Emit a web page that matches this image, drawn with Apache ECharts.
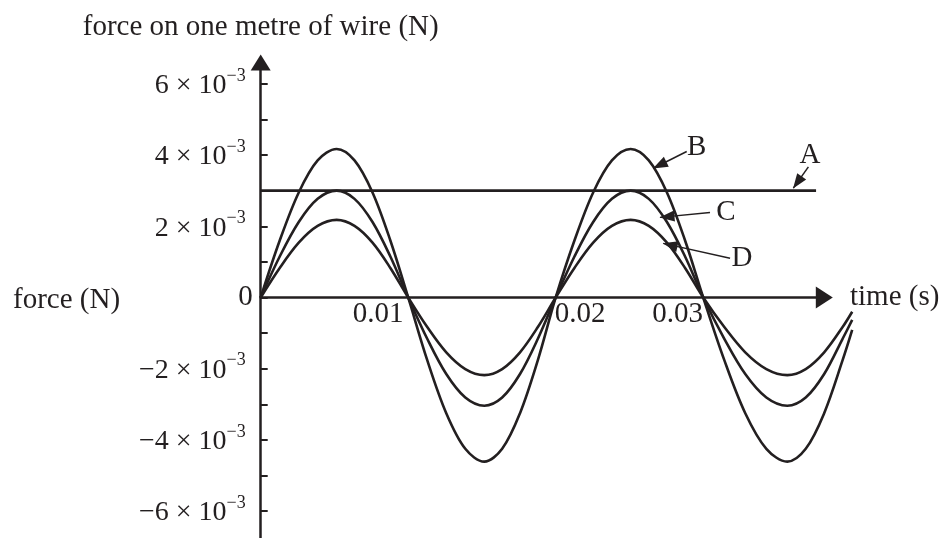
<!DOCTYPE html>
<html>
<head>
<meta charset="utf-8">
<script src="https://cdn.jsdelivr.net/npm/echarts@6/dist/echarts.min.js"></script>
<style>
  html, body { margin: 0; padding: 0; background: #ffffff; }
  #chart { width: 941px; height: 538px; }
</style>
</head>
<body>
<div id="chart"></div>
<script>
// Force on one metre of wire against time; forces are in units of 10^-3 N.
const timeS = [
  0, 0.00129, 0.00258, 0.00386, 0.00515, 0.00636, 0.00758, 0.00879, 0.01,
  0.01129, 0.01258, 0.01387, 0.01516, 0.01637, 0.01758, 0.01879, 0.02,
  0.02127, 0.02254, 0.02381, 0.02508, 0.02631, 0.02754, 0.02877, 0.03,
  0.03143, 0.03285, 0.03428, 0.0357, 0.03695, 0.0382, 0.03945, 0.0401
];
const forceB = [
  0, 1.60, 2.95, 3.85, 4.17, 3.85, 2.95, 1.60, 0,
  -1.76, -3.25, -4.25, -4.61, -4.25, -3.25, -1.76, 0,
  1.60, 2.95, 3.85, 4.17, 3.85, 2.95, 1.60, 0,
  -1.76, -3.25, -4.25, -4.61, -4.25, -3.25, -1.76, -0.91
];
const forceC = [
  0, 1.15, 2.12, 2.77, 3.0, 2.77, 2.12, 1.15, 0,
  -1.16, -2.15, -2.81, -3.04, -2.81, -2.15, -1.16, 0,
  1.15, 2.12, 2.77, 3.0, 2.77, 2.12, 1.15, 0,
  -1.16, -2.15, -2.81, -3.04, -2.81, -2.15, -1.16, -0.63
];
const forceD = [
  0, 0.83, 1.54, 2.01, 2.18, 2.01, 1.54, 0.83, 0,
  -0.83, -1.54, -2.01, -2.18, -2.01, -1.54, -0.83, 0,
  0.83, 1.54, 2.01, 2.18, 2.01, 1.54, 0.83, 0,
  -0.83, -1.54, -2.01, -2.18, -2.01, -1.54, -0.83, -0.40
];
// steady force A
const timeA = [0, 0.03765];
const forceA = [3.0, 3.0];

// axis ticks and labels
const yTickValues = [-7, -6, -5, -4, -3, -2, -1, 0, 1, 2, 3, 4, 5, 6];
const yLabelValues = [-6, -4, -2, 0, 2, 4, 6];
const xLabelValues = [0.01, 0.02, 0.03];
const xLabelTexts = ['0.01', '0.02', '0.03'];

// curve names and their pointer annotations (data coordinates)
const curveNames = ['A', 'B', 'C', 'D'];
const namePoints = [[0.03724, 4.00], [0.02955, 4.21], [0.03154, 2.39], [0.03263, 1.11]];
const pointerFrom = [[0.03713, 3.67], [0.02888, 4.10], [0.03046, 2.39], [0.03182, 1.10]];
const pointerTo = [[0.03611, 3.07], [0.02662, 3.63], [0.02707, 2.25], [0.02729, 1.52]];

const INK = '#231f20';
const SERIF = "'Liberation Serif', 'Times New Roman', serif";
const FS = 29;

const pairs = (xs, ys) => xs.map((x, i) => [x, ys[i]]);

const chart = echarts.init(document.getElementById('chart'), null, { renderer: 'canvas' });

// grid 0 carries the curves (its axes are hidden and run a little further right),
// grid 1 carries the visible axes with the arrow heads; both share the same scale.
const Y_MIN = -7, Y_MAX = 6.6;

const curveSeries = (name, ys) => ({
  name: name,
  type: 'line',
  xAxisIndex: 0,
  yAxisIndex: 0,
  data: pairs(timeS, ys),
  smooth: 0.34,
  showSymbol: false,
  clip: false,
  lineStyle: { color: INK, width: 2.6 },
  silent: true
});

const option = {
  backgroundColor: '#ffffff',
  animation: false,
  textStyle: { fontFamily: SERIF, color: INK },
  title: {
    text: 'force (N)',
    left: 8,
    top: 281,
    textStyle: { fontFamily: SERIF, fontSize: FS, fontWeight: 'normal', color: INK }
  },
  grid: [
    { left: 260.7, top: 62.5, width: 626.9, height: 484.2, containLabel: false, outerBoundsMode: 'none' },
    { left: 260.7, top: 62.5, width: 563.6, height: 484.2, containLabel: false, outerBoundsMode: 'none' }
  ],
  xAxis: [
    {
      gridIndex: 0, type: 'value', min: 0, max: 0.0425, show: false,
      splitLine: { show: false }
    },
    {
      gridIndex: 1,
      type: 'value',
      min: 0,
      max: 0.03821,
      interval: 0.01,
      position: 'bottom',
      offset: -249.2,
      name: 'time (s)',
      nameLocation: 'end',
      nameGap: 25.7,
      nameTextStyle: { fontFamily: SERIF, fontSize: FS, color: INK, align: 'left', verticalAlign: 'middle', padding: [10, 0, 0, 0] },
      axisLine: {
        onZero: false,
        symbol: ['none', 'triangle'],
        symbolSize: [22, 17],
        lineStyle: { color: INK, width: 2.5 }
      },
      axisTick: { show: false },
      splitLine: { show: false },
      axisLabel: {
        customValues: xLabelValues,
        margin: 2,
        fontFamily: SERIF,
        fontSize: FS,
        color: INK,
        formatter: function (v) {
          const i = xLabelValues.findIndex(x => Math.abs(x - v) < 1e-9);
          if (i < 0) return '';
          const style = ['l', 'r', 'm'][i];
          return '{' + style + '|' + xLabelTexts[i] + '}';
        },
        rich: {
          l: { fontFamily: SERIF, fontSize: FS, color: INK, padding: [0, 60, 0, 0] },
          r: { fontFamily: SERIF, fontSize: FS, color: INK, padding: [0, 0, 0, 49] },
          m: { fontFamily: SERIF, fontSize: FS, color: INK, padding: [0, 51, 0, 0] }
        }
      }
    }
  ],
  yAxis: [
    {
      gridIndex: 0, type: 'value', min: Y_MIN, max: Y_MAX, show: false,
      splitLine: { show: false }
    },
    {
      gridIndex: 1,
      type: 'value',
      min: Y_MIN,
      max: Y_MAX,
      interval: 1,
      position: 'left',
      name: 'force on one metre of wire (N)',
      nameLocation: 'end',
      nameGap: 35.5,
      nameTextStyle: { fontFamily: SERIF, fontSize: FS, color: INK, align: 'center', verticalAlign: 'middle' },
      axisLine: {
        onZero: false,
        symbol: ['none', 'triangle'],
        symbolSize: [20, 16],
        lineStyle: { color: INK, width: 2.5 }
      },
      axisTick: {
        customValues: yTickValues,
        inside: true,
        length: 7,
        lineStyle: { color: INK, width: 2 }
      },
      splitLine: { show: false },
      axisLabel: {
        customValues: yLabelValues,
        margin: 8,
        formatter: function (v) {
          if (Math.abs(v) < 1e-9) return '{z|0}';
          const sign = v < 0 ? '\u2212' : '';
          return '{n|' + sign + Math.abs(v) + ' \u00d7 10}{s|\u22123}';
        },
        rich: {
          z: { fontFamily: SERIF, fontSize: FS, color: INK },
          n: { fontFamily: SERIF, fontSize: 28, color: INK, lineHeight: 34, padding: [4, 0, 0, 0] },
          s: { fontFamily: SERIF, fontSize: 18, color: INK, verticalAlign: 'top', lineHeight: 18, padding: [0, 7, 0, 0] }
        }
      }
    }
  ],
  series: [
    {
      name: 'A',
      type: 'line',
      xAxisIndex: 0,
      yAxisIndex: 0,
      data: pairs(timeA, forceA),
      showSymbol: false,
      clip: false,
      silent: true,
      lineStyle: { color: INK, width: 2.6 },
      itemStyle: { color: INK },
      markLine: {
        silent: true,
        animation: false,
        label: { show: false },
        lineStyle: { color: INK, width: 1.5, type: 'solid' },
        itemStyle: { color: INK },
        data: pointerFrom.map((p, i) => [
          { coord: p, symbol: 'none' },
          { coord: pointerTo[i], symbol: 'triangle', symbolSize: [11, 15], symbolOffset: [0, 7] }
        ])
      }
    },
    curveSeries('B', forceB),
    curveSeries('C', forceC),
    curveSeries('D', forceD),
    {
      name: 'names',
      type: 'scatter',
      xAxisIndex: 0,
      yAxisIndex: 0,
      symbolSize: 0,
      silent: true,
      itemStyle: { opacity: 1, color: INK },
      data: namePoints.map((p, i) => [p[0], p[1], curveNames[i]]),
      label: {
        show: true,
        position: 'inside',
        fontFamily: SERIF,
        fontSize: FS,
        color: INK,
        opacity: 1,
        formatter: p => p.data[2]
      }
    }
  ]
};

chart.setOption(option);
</script>
</body>
</html>
